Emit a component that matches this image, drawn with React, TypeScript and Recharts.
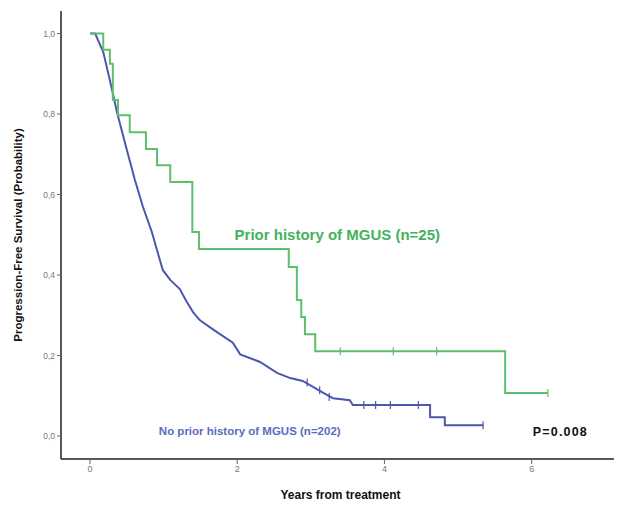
import React from 'react';
import { ComposedChart, Line, Scatter, XAxis, YAxis, ReferenceDot } from 'recharts';

// Kaplan-Meier estimates
const mgusTimes = [0, 0.18, 0.27, 0.31, 0.38, 0.54, 0.76, 0.91, 1.09, 1.39, 1.48, 2.70, 2.81, 2.87, 2.92, 3.06, 5.64, 6.22];
const mgusSurv = [1.0, 0.96, 0.925, 0.835, 0.797, 0.755, 0.713, 0.673, 0.631, 0.507, 0.465, 0.42, 0.338, 0.296, 0.253, 0.211, 0.107, 0.107];

const noMgusTimes = [0, 0.07, 0.18, 0.27, 0.37, 0.50, 0.61, 0.72, 0.84, 0.91, 0.99, 1.09, 1.22, 1.31, 1.40, 1.49, 1.67, 1.94, 2.04, 2.31, 2.54, 2.72, 2.89, 3.03, 3.17, 3.30, 3.53, 3.57, 4.62, 4.62, 4.82, 4.82, 5.34];
const noMgusSurv = [1.0, 1.0, 0.954, 0.884, 0.802, 0.711, 0.636, 0.569, 0.507, 0.462, 0.412, 0.388, 0.365, 0.335, 0.308, 0.288, 0.265, 0.232, 0.203, 0.184, 0.157, 0.144, 0.137, 0.122, 0.107, 0.094, 0.089, 0.077, 0.077, 0.047, 0.047, 0.027, 0.027];

const mgusCensorTimes = [3.40, 4.12, 4.71, 6.22];
const mgusCensorSurv = [0.211, 0.211, 0.211, 0.107];
const noMgusCensorTimes = [2.95, 3.12, 3.25, 3.72, 3.88, 4.08, 4.46, 5.34];
const noMgusCensorSurv = [0.133, 0.114, 0.097, 0.077, 0.077, 0.077, 0.077, 0.027];

const yTicks = [0, 0.2, 0.4, 0.6, 0.8, 1.0];
const xTicks = [0, 2, 4, 6];

const GREEN = '#5cbf6c';
const BLUE = '#4b58ad';

const zip = (xs: number[], ys: number[]) => xs.map((x, i) => ({ t: x, s: ys[i] }));

const mgusData = zip(mgusTimes, mgusSurv);
const noMgusData = zip(noMgusTimes, noMgusSurv);
const mgusCensor = zip(mgusCensorTimes, mgusCensorSurv);
const noMgusCensor = zip(noMgusCensorTimes, noMgusCensorSurv);

const tickShape = (color: string) => (props: any) => {
  const { cx, cy } = props;
  return <line x1={cx} x2={cx} y1={cy - 4} y2={cy + 4} stroke={color} strokeWidth={1.2} />;
};

const FONT = '"Liberation Sans", Arial, sans-serif';

export default function App() {
  return (
    <div style={{ width: 614, height: 498, background: '#fff' }}>
      <ComposedChart width={614} height={498} margin={{ top: 3, right: 2, left: 0, bottom: 0 }}>
        <XAxis
          xAxisId="top"
          orientation="top"
          type="number"
          dataKey="t"
          domain={[-0.394, 7.2]}
          allowDataOverflow
          tick={false}
          tickLine={false}
          height={0}
          axisLine={{ stroke: '#aaaaaa', strokeWidth: 2 }}
        />
        <XAxis
          type="number"
          dataKey="t"
          domain={[-0.394, 7.2]}
          allowDataOverflow
          ticks={xTicks}
          height={47}
          tickSize={5}
          tickLine={{ stroke: '#666' }}
          axisLine={{ stroke: '#222', strokeWidth: 1.5 }}
          tick={{ fontSize: 9, fill: '#777', fontFamily: FONT }}
          label={{ value: 'Years from treatment', position: 'insideBottom', offset: 7, fontSize: 12, fontWeight: 'bold', fill: '#111', fontFamily: FONT }}
        />
        <YAxis
          type="number"
          dataKey="s"
          domain={[-0.057, 1.056]}
          allowDataOverflow
          ticks={yTicks}
          width={53}
          tickSize={4}
          tickLine={{ stroke: '#666' }}
          axisLine={{ stroke: '#222', strokeWidth: 1.5 }}
          tickFormatter={(v: number) => v.toFixed(1).replace('.', ',')}
          tick={{ fontSize: 8.5, fill: '#777', fontFamily: FONT }}
          label={{ value: 'Progression-Free Survival (Probability)', angle: -90, position: 'insideLeft', offset: 10, style: { textAnchor: 'middle' }, fontSize: 11.5, fontWeight: 'bold', fill: '#111', fontFamily: FONT }}
        />
        <Line data={noMgusData} dataKey="s" type="linear" stroke={BLUE} strokeWidth={2} dot={false} isAnimationActive={false} />
        <Line data={mgusData} dataKey="s" type="stepAfter" stroke={GREEN} strokeWidth={2} dot={false} isAnimationActive={false} />
        <Scatter data={noMgusCensor} dataKey="s" shape={tickShape(BLUE)} isAnimationActive={false} />
        <Scatter data={mgusCensor} dataKey="s" shape={tickShape(GREEN)} isAnimationActive={false} />
        <ReferenceDot x={3.36} y={0.5} r={0} stroke="none" fill="none" ifOverflow="visible"
          label={{ value: 'Prior history of MGUS (n=25)', position: 'center', fontSize: 15, fontWeight: 'bold', fill: '#44b25c', fontFamily: FONT }} />
        <ReferenceDot x={2.17} y={0.012} r={0} stroke="none" fill="none" ifOverflow="visible"
          label={{ value: 'No prior history of MGUS (n=202)', position: 'center', fontSize: 11.5, fontWeight: 'bold', fill: '#5a6cc0', fontFamily: FONT }} />
        <ReferenceDot x={6.39} y={0.012} r={0} stroke="none" fill="none" ifOverflow="visible"
          label={{ value: 'P=0.008', position: 'center', fontSize: 12.5, fontWeight: 'bold', fill: '#111', fontFamily: FONT, letterSpacing: 1.2 }} />
      </ComposedChart>
    </div>
  );
}
